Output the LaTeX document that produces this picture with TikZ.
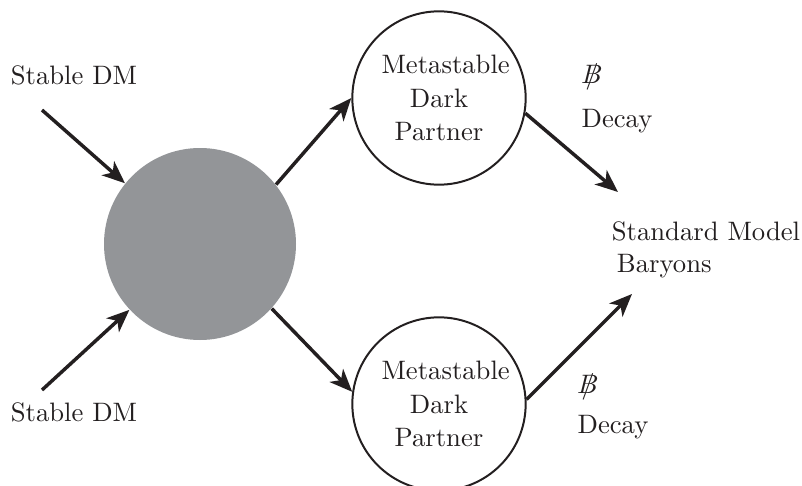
\documentclass[tikz,border=0pt]{standalone}
\usetikzlibrary{arrows.meta}
\definecolor{blobgray}{RGB}{147,149,152}
\definecolor{ink}{RGB}{35,31,32}
\begin{document}
\begin{tikzpicture}[x=0.375pt,y=-0.375pt,
  arr/.style={draw=ink,line width=1.3pt,-{Stealth[length=8.5pt,width=7pt,inset=2.4pt]}},
  blob/.style={circle,fill=blobgray,minimum size=72pt,inner sep=0pt},
  partner/.style={circle,draw=ink,line width=0.75pt,minimum size=65pt,inner sep=0pt,align=center,text=ink},
  lbl/.style={inner sep=0pt,align=center,text=ink}]
\useasboundingbox (0,0) rectangle (802,486);
\node[blob] (g) at (200,244) {};
\node[partner] (t) at (439,98) {\hspace*{5pt}Metastable\\[0.6pt]Dark\hspace*{3pt}\\[0.6pt]Partner};
\node[partner] (b) at (439,404) {\hspace*{5pt}Metastable\\[0.6pt]Dark\hspace*{3pt}\\[0.6pt]Partner};
\node[lbl] (s1) at (74,75) {Stable DM};
\node[lbl] (s2) at (74,412) {Stable DM};
\node[lbl] (bs1) at (592,78) {\ooalign{$B$\cr\hidewidth$/$\hidewidth}};
\node[lbl] (d1) at (617,121) {Decay};
\node[lbl] (bs2) at (588,388) {\ooalign{$B$\cr\hidewidth$/$\hidewidth}};
\node[lbl] (d2) at (613,427) {Decay};
\node[lbl,align=left] (sm) at (706,250) {Standard Model\\\hspace*{1.9pt}Baryons};
\coordinate (c1) at (42,110);
\coordinate (c2) at (42,390);
\coordinate (e1) at (618,192);
\coordinate (e2) at (632,294);
\draw[arr] (c1) -- (g.141.5);
\draw[arr] (c2) -- (g.223.7);
\draw[arr] (g.38.5) -- (t.180);
\draw[arr] (g.-42) -- (b.172);
\draw[arr] (t.-10) -- (e1);
\draw[arr] (b.3) -- (e2);
\end{tikzpicture}
\end{document}
